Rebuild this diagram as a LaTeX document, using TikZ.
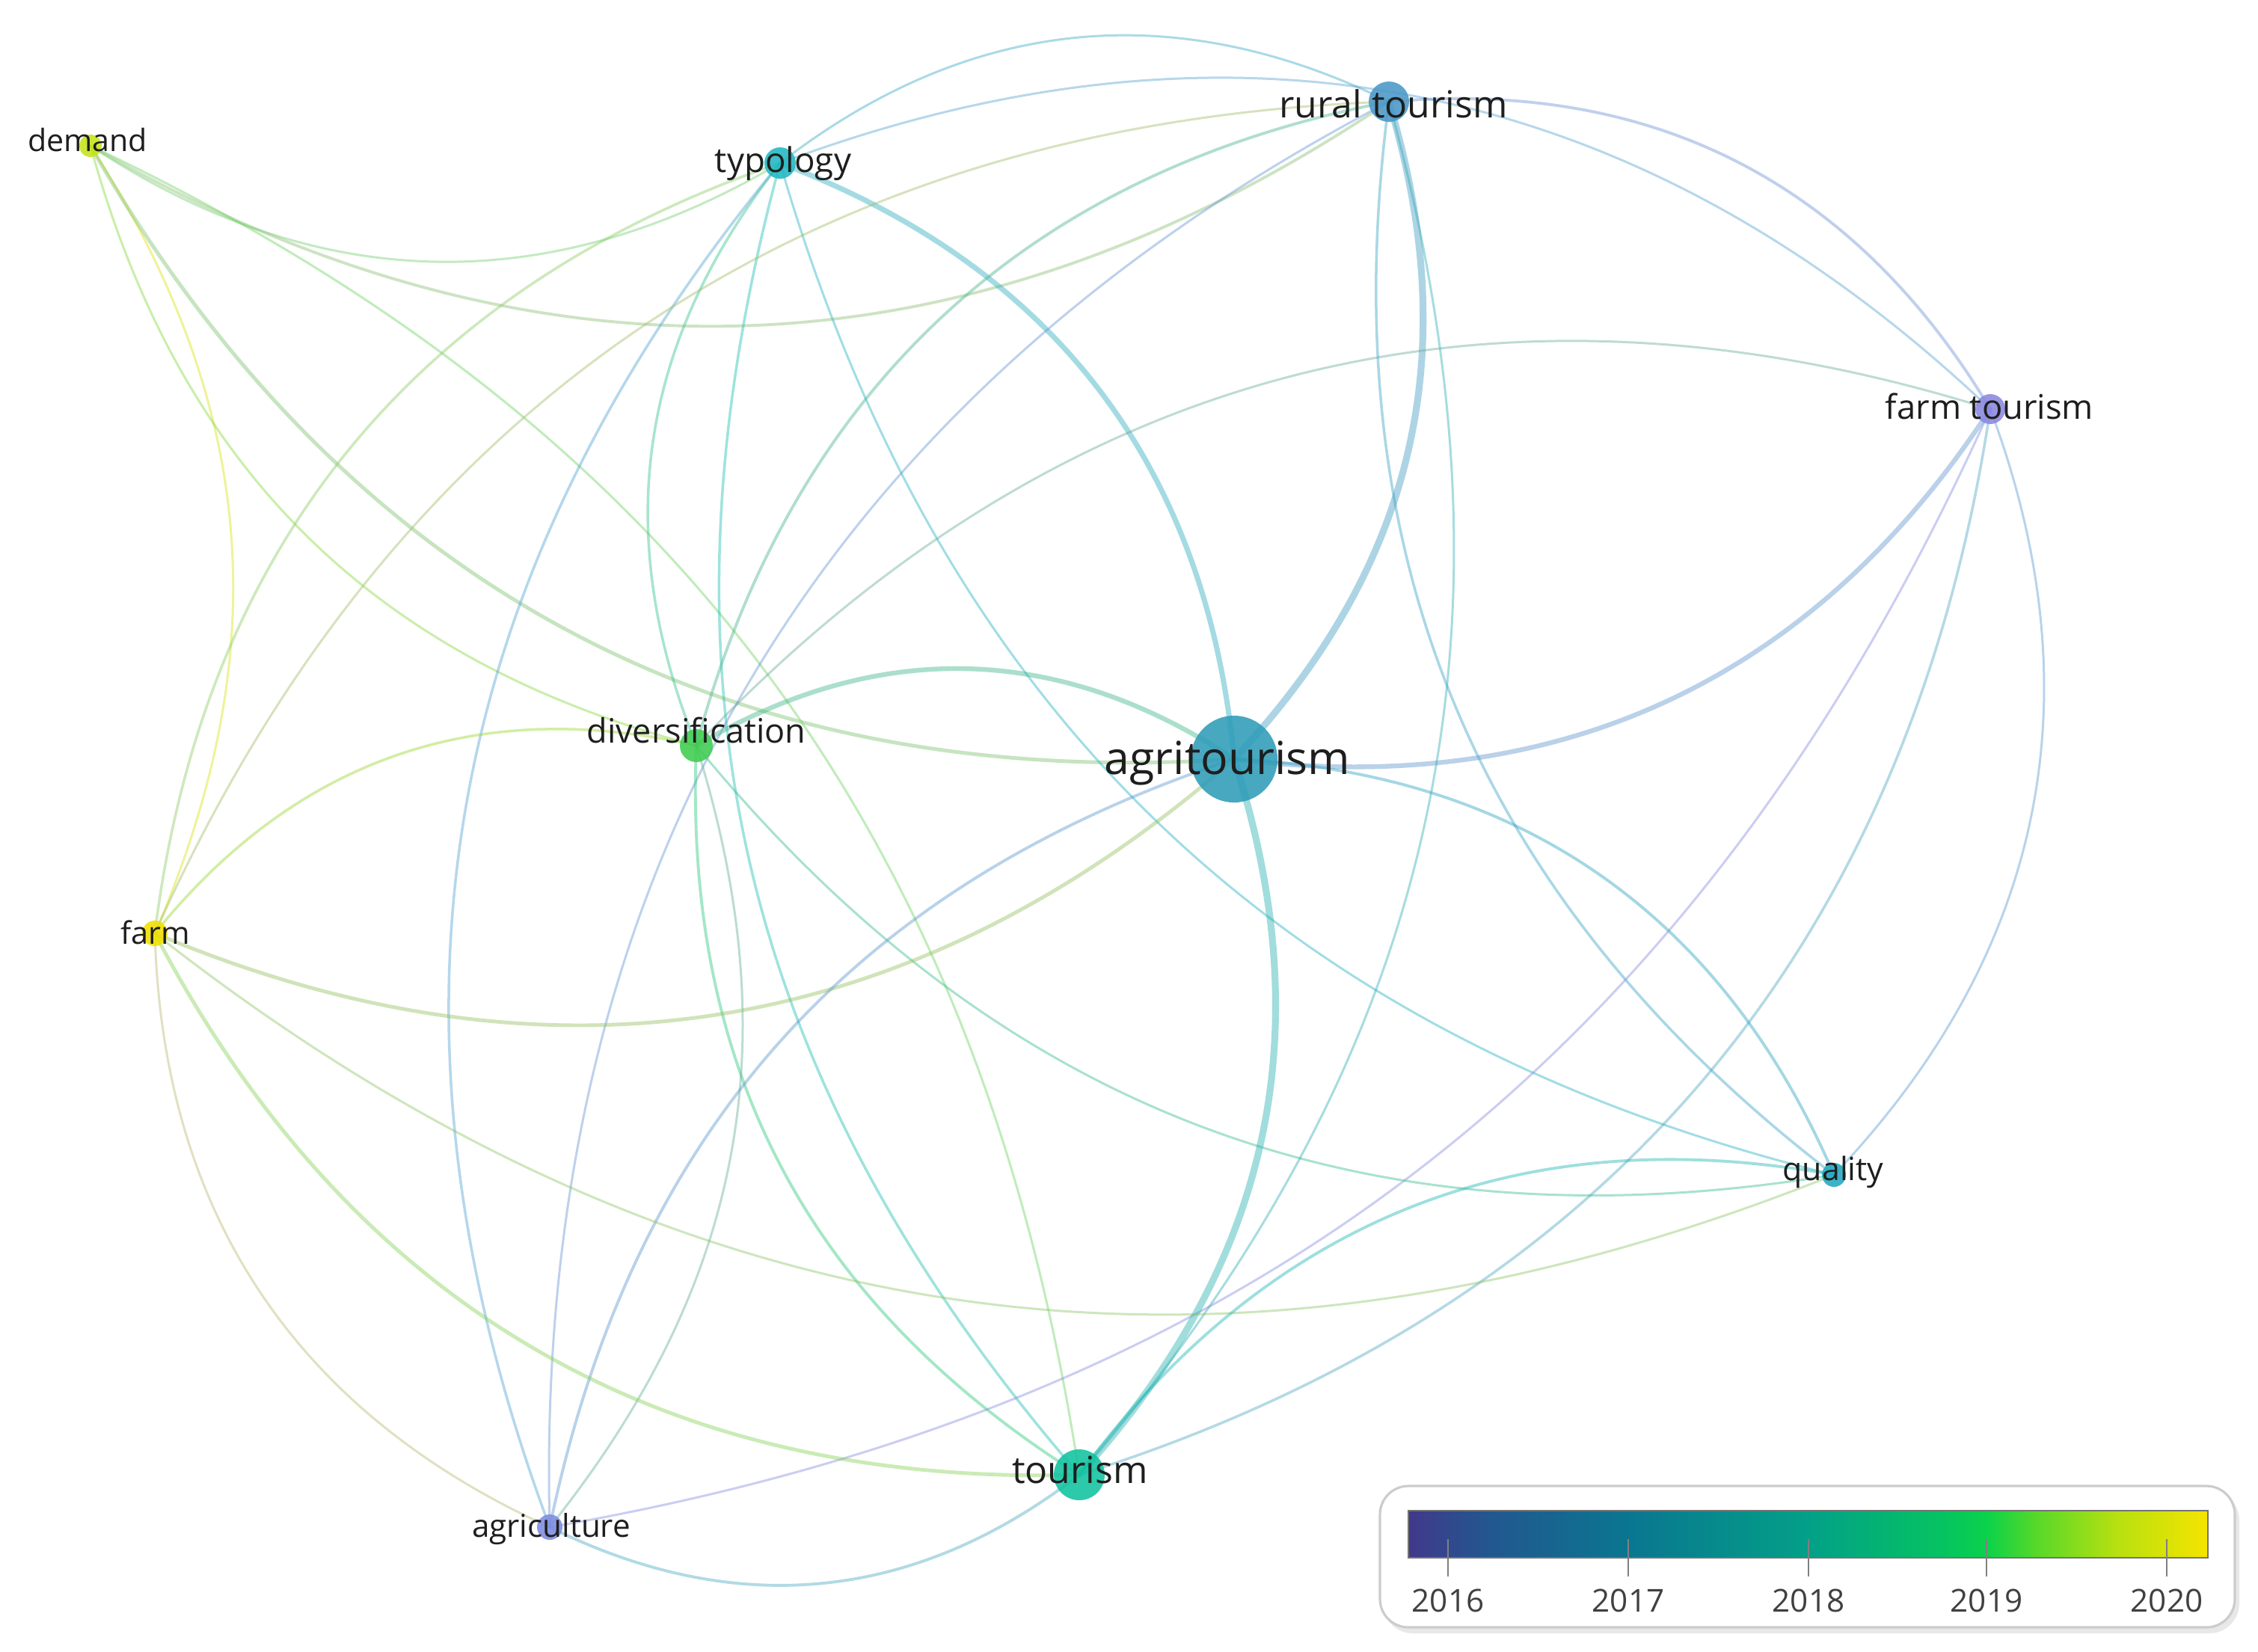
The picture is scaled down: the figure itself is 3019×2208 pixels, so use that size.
\documentclass[tikz,border=0pt]{standalone}
\usepackage{fontspec}
\setmainfont{Open Sans}
\pgfdeclarelayer{bg}
\pgfsetlayers{bg,main}
\definecolor{cD}{HTML}{C5E31A}
\definecolor{cTy}{HTML}{20B8C2}
\definecolor{cR}{HTML}{4A98C8}
\definecolor{cFT}{HTML}{8A88E0}
\definecolor{cDv}{HTML}{3FCC50}
\definecolor{cA}{HTML}{2E9CB8}
\definecolor{cF}{HTML}{F2E000}
\definecolor{cQ}{HTML}{22A8C2}
\definecolor{cT}{HTML}{10C2A0}
\definecolor{cAg}{HTML}{7E8CE0}
\definecolor{txt}{HTML}{1E1E1E}
\definecolor{g0}{HTML}{41398B}
\definecolor{g1}{HTML}{22578F}
\definecolor{g2}{HTML}{0A7690}
\definecolor{g3}{HTML}{03A088}
\definecolor{g4}{HTML}{05C460}
\definecolor{g5}{HTML}{0AD24A}
\definecolor{g6}{HTML}{55D82A}
\definecolor{g7}{HTML}{B8E010}
\definecolor{g8}{HTML}{F5E400}
\tikzset{
 kw/.style={circle, inner sep=0pt, fill opacity=0.88, draw=none},
 lbl/.style={anchor=base, text=txt, inner sep=0pt},
 lnk/.style={draw opacity=0.42, line cap=round},
 yr/.style={anchor=base, font=\fontsize{12}{14}\selectfont, text=black!75},
 tick/.style={draw=black!50, line width=0.7pt},
}
\newcommand\lk[5]{\draw[lnk, line width=#5, draw=c#1!50!c#2] (#1.center) to[bend #3=#4] (#2.center);}
\begin{document}
\begin{tikzpicture}[x=0.01cm,y=0.01cm]
\useasboundingbox (0,0) rectangle (3019,-2208);
% nodes
\node[kw, fill=cD, minimum size=0.30cm] (D) at (121,-195) {};
\node[kw, fill=cTy, minimum size=0.42cm] (Ty) at (1043,-218) {};
\node[kw, fill=cR, minimum size=0.54cm] (R) at (1857,-136) {};
\node[kw, fill=cFT, minimum size=0.40cm] (FT) at (2661,-547) {};
\node[kw, fill=cDv, minimum size=0.44cm] (Dv) at (931,-997) {};
\node[kw, fill=cA, minimum size=1.16cm] (A) at (1650,-1015) {};
\node[kw, fill=cF, minimum size=0.34cm] (F) at (207,-1248) {};
\node[kw, fill=cQ, minimum size=0.32cm] (Q) at (2452,-1571) {};
\node[kw, fill=cT, minimum size=0.68cm] (T) at (1443,-1972) {};
\node[kw, fill=cAg, minimum size=0.34cm] (Ag) at (735,-2042) {};
\begin{pgfonlayer}{bg}
\fill[white] (0,0) rectangle (3019,-2208);
\lk{D}{Ty}{right}{32}{0.85pt}
\lk{D}{R}{right}{32}{1.1pt}
\lk{D}{F}{left}{28}{0.85pt}
\lk{D}{Dv}{right}{30}{0.85pt}
\lk{D}{A}{right}{32}{1.4pt}
\lk{D}{T}{left}{28}{0.85pt}
\lk{Ty}{R}{left}{32}{0.85pt}
\lk{Ty}{FT}{left}{32}{0.85pt}
\lk{Ty}{A}{left}{32}{2pt}
\lk{Ty}{Dv}{right}{30}{1pt}
\lk{Ty}{F}{right}{32}{1pt}
\lk{Ty}{Ag}{right}{30}{1pt}
\lk{Ty}{T}{right}{28}{1pt}
\lk{Ty}{Q}{right}{30}{0.85pt}
\lk{R}{A}{left}{30}{2.6pt}
\lk{R}{T}{left}{28}{0.85pt}
\lk{R}{Q}{right}{30}{1pt}
\lk{R}{FT}{left}{32}{1.1pt}
\lk{R}{Dv}{right}{32}{1.1pt}
\lk{R}{F}{right}{32}{0.85pt}
\lk{R}{Ag}{right}{32}{0.85pt}
\lk{FT}{A}{left}{32}{1.8pt}
\lk{FT}{Q}{left}{32}{0.85pt}
\lk{FT}{T}{left}{32}{1pt}
\lk{FT}{Ag}{left}{28}{0.85pt}
\lk{FT}{Dv}{right}{32}{0.85pt}
\lk{Dv}{A}{left}{32}{1.8pt}
\lk{Dv}{F}{right}{32}{1pt}
\lk{Dv}{T}{right}{30}{1.1pt}
\lk{Dv}{Ag}{left}{28}{0.85pt}
\lk{Dv}{Q}{right}{30}{0.85pt}
\lk{A}{F}{left}{32}{1.4pt}
\lk{A}{T}{left}{30}{2.6pt}
\lk{A}{Q}{left}{32}{1.1pt}
\lk{A}{Ag}{right}{30}{1.1pt}
\lk{F}{T}{right}{32}{1.4pt}
\lk{F}{Ag}{right}{32}{0.85pt}
\lk{F}{Q}{right}{30}{0.85pt}
\lk{Q}{T}{right}{32}{1.1pt}
\lk{T}{Ag}{left}{32}{1.1pt}
\end{pgfonlayer}
% labels
\node[lbl, font=\fontsize{11.7}{14}\selectfont] (lD) at (117,-202) {demand};
\node[lbl, font=\fontsize{13}{15}\selectfont] (lTy) at (1047,-230) {typology};
\node[lbl, font=\fontsize{14.2}{17}\selectfont] (lR) at (1863,-157) {rural tourism};
\node[lbl, font=\fontsize{12.9}{15}\selectfont] (lFT) at (2660,-560) {farm tourism};
\node[lbl, font=\fontsize{12.8}{15}\selectfont] (lDv) at (931,-993) {diversification};
\node[lbl, font=\fontsize{17.3}{20}\selectfont] (lA) at (1641,-1035) {agritourism};
\node[lbl, font=\fontsize{11.8}{14}\selectfont] (lF) at (208,-1262) {farm};
\node[lbl, font=\fontsize{12.2}{14}\selectfont] (lQ) at (2451,-1578) {quality};
\node[lbl, font=\fontsize{14.2}{17}\selectfont] (lT) at (1444,-1983) {tourism};
\node[lbl, font=\fontsize{12}{14}\selectfont] (lAg) at (737,-2055) {agriculture};
% legend
\fill[black!9, rounded corners=0.4cm] (1849,-1993) rectangle (2994,-2184);
\filldraw[fill=white, draw=black!20, line width=0.9pt, rounded corners=0.38cm] (1845,-1987) rectangle (2988,-2176);
\shade[left color=g0, right color=g1] (1883,-2020) rectangle (1991,-2083);
\shade[left color=g1, right color=g2] (1990,-2020) rectangle (2177,-2083);
\shade[left color=g2, right color=g3] (2176,-2020) rectangle (2419,-2083);
\shade[left color=g3, right color=g4] (2418,-2020) rectangle (2601,-2083);
\shade[left color=g4, right color=g5] (2600,-2020) rectangle (2657,-2083);
\shade[left color=g5, right color=g6] (2656,-2020) rectangle (2721,-2083);
\shade[left color=g6, right color=g7] (2720,-2020) rectangle (2831,-2083);
\shade[left color=g7, right color=g8] (2830,-2020) rectangle (2952,-2083);
\draw[black!55, line width=0.6pt] (1883,-2020) rectangle (2952,-2083);
\foreach \xx/\yy in {1936/2016, 2177/2017, 2418/2018, 2656/2019, 2897/2020}{
  \draw[tick] (\xx,-2058) -- (\xx,-2108);
  \node[yr] at (\xx,-2155) {\yy};
}
\end{tikzpicture}
\end{document}
